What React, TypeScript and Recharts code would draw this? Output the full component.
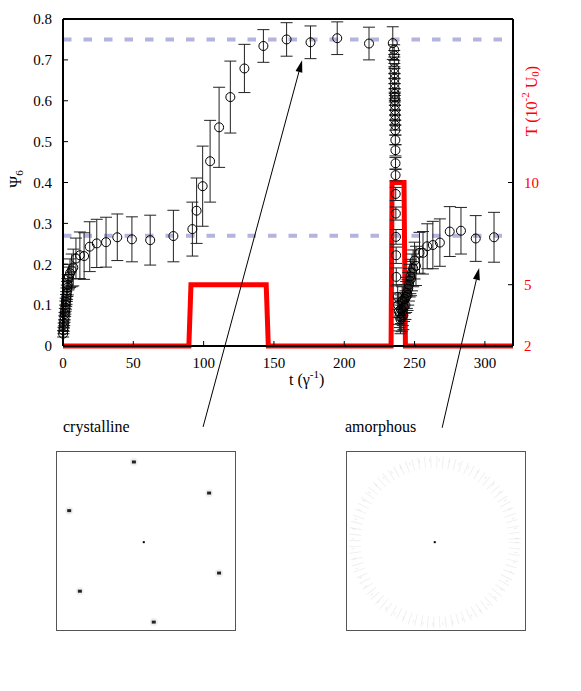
import React from 'react';
import {
  ComposedChart,
  ScatterChart,
  Scatter,
  Line,
  XAxis,
  YAxis,
  ErrorBar,
  ReferenceLine,
  ReferenceDot,
} from 'recharts';

const FONT = '"Liberation Serif", "DejaVu Serif", serif';

// Psi_6 order parameter vs time t (1/gamma)
const psiTimes = [
  0.1, 0.3, 0.5, 0.7, 0.9, 1.1, 1.3, 1.5, 1.7, 1.9, 2.1, 2.3, 2.5, 2.7, 2.9, 3.1, 3.4, 3.8, 4.2, 5.0,
  6.2, 7.3, 9.2, 12, 15, 19, 24, 30.6, 38.6, 49, 62, 78.5, 92, 95, 99.3, 104.6, 111, 119, 129, 142.5,
  159, 176, 195, 217.6, 234.5,
  235.5, 235.55, 235.6, 235.65, 235.7, 235.75, 235.8, 235.85, 235.9, 235.95, 236.0, 236.05, 236.1,
  236.15, 236.2, 236.25, 236.3, 236.35, 236.4, 236.45, 236.5, 236.6, 236.7, 236.8, 236.9, 237.0,
  238.0, 238.4, 238.8, 239.2, 239.6, 240.0, 240.4, 240.8, 241.2, 241.6, 242.0, 242.5, 243.0, 243.5,
  244.0, 244.5, 245.0, 245.5, 246.0, 246.5, 247.0, 247.5, 248.2, 249.0, 250.0, 251.0,
  253.5, 256, 259, 263, 268, 275, 283, 293.5, 306.5,
];
const psiValues = [
  0.030, 0.038, 0.046, 0.054, 0.062, 0.070, 0.078, 0.086, 0.094, 0.101, 0.108, 0.115, 0.122, 0.129,
  0.136, 0.143, 0.150, 0.165, 0.170, 0.178,
  0.185, 0.192, 0.214, 0.222, 0.220, 0.243, 0.251, 0.254, 0.266, 0.261, 0.259, 0.269, 0.286, 0.331,
  0.391, 0.452, 0.535, 0.609, 0.679, 0.734, 0.750, 0.743, 0.753, 0.740, 0.741,
  0.725, 0.711, 0.695, 0.679, 0.667, 0.654, 0.642, 0.630, 0.617, 0.609, 0.601, 0.589, 0.577, 0.565,
  0.553, 0.540, 0.528, 0.504, 0.479, 0.447, 0.418, 0.372, 0.324, 0.267, 0.222, 0.169,
  0.120, 0.100, 0.085, 0.072, 0.080, 0.065, 0.090, 0.070, 0.110, 0.085, 0.075, 0.095, 0.115, 0.100,
  0.120, 0.130, 0.125, 0.140, 0.150, 0.160, 0.170, 0.165, 0.180, 0.190, 0.209, 0.196,
  0.228, 0.228, 0.244, 0.247, 0.253, 0.280, 0.282, 0.263, 0.266,
];
const psiErrors = [
  0.008, 0.008, 0.010, 0.010, 0.012, 0.012, 0.014, 0.014, 0.016, 0.016, 0.018, 0.018, 0.020, 0.020,
  0.022, 0.022, 0.025, 0.028, 0.030, 0.035,
  0.040, 0.045, 0.050, 0.057, 0.057, 0.061, 0.059, 0.061, 0.057, 0.055, 0.061, 0.063, 0.066, 0.080,
  0.098, 0.100, 0.098, 0.088, 0.059, 0.040, 0.041, 0.040, 0.040, 0.040, 0.040,
  0.012, 0.012, 0.012, 0.012, 0.012, 0.012, 0.012, 0.012, 0.012, 0.012, 0.012, 0.012, 0.012, 0.012,
  0.012, 0.012, 0.012, 0.012, 0.014, 0.014, 0.014, 0.016, 0.016, 0.018, 0.020, 0.022,
  0.030, 0.030, 0.032, 0.035, 0.035, 0.035, 0.035, 0.035, 0.035, 0.035, 0.035, 0.035, 0.035, 0.035,
  0.038, 0.038, 0.038, 0.040, 0.040, 0.040, 0.042, 0.042, 0.045, 0.045, 0.045, 0.048,
  0.050, 0.052, 0.055, 0.058, 0.058, 0.061, 0.057, 0.056, 0.061,
];

// temperature protocol, T in 10^-2 U0
const tempTimes = [0, 89.5, 91, 144.5, 146, 233.3, 234, 242.5, 243.5, 320];
const tempValues = [2, 2, 5, 5, 2, 2, 10, 10, 2, 2];

const xTicks = [0, 50, 100, 150, 200, 250, 300];
const psiTicks = [0, 0.1, 0.2, 0.3, 0.4, 0.5, 0.6, 0.7, 0.8];
const tempTicks = [2, 5, 10];
const psiLevels = [0.75, 0.27];

// arrows from the inset labels to the curve (tail, head) in (t, psi)
const arrowCrystal = [{ x: 99.6, y: -0.198 }, { x: 170, y: 0.699 }];
const arrowAmorph = [{ x: 269.6, y: -0.2 }, { x: 295.9, y: 0.191 }];

// diffraction spots, normalised to the inset box (-1..1)
const crystalSpots = [
  { x: -0.136, y: 0.888 },
  { x: 0.709, y: 0.539 },
  { x: -0.863, y: 0.341 },
  { x: 0.821, y: -0.36 },
  { x: -0.743, y: -0.564 },
  { x: 0.087, y: -0.911 },
];
const crystalCenter = [{ x: -0.025, y: -0.013 }];
const amorphCenter = [{ x: -0.014, y: -0.013 }];

const psiData = psiTimes.map((t, i) => ({ t, psi: psiValues[i], err: psiErrors[i] }));
const tempData = tempTimes.map((t, i) => ({ t, T: tempValues[i] }));

const OpenCircle = (p: any) => (
  <circle cx={p.cx} cy={p.cy} r={4.5} fill="none" stroke="#000" strokeWidth={1} />
);

const ArrowShape = (p: any) => {
  const { x1, y1, x2, y2 } = p;
  const a = Math.atan2(y2 - y1, x2 - x1);
  const len = 12;
  const hw = 3.5;
  const bx = x2 - len * Math.cos(a);
  const by = y2 - len * Math.sin(a);
  const px = -Math.sin(a) * hw;
  const py = Math.cos(a) * hw;
  return (
    <g>
      <line x1={x1} y1={y1} x2={bx} y2={by} stroke="#000" strokeWidth={1} />
      <polygon points={`${x2},${y2} ${bx + px},${by + py} ${bx - px},${by - py}`} fill="#000" />
    </g>
  );
};

const PsiLabel = (props: any) => {
  const vb = props.viewBox || { x: 23, y: 19, width: 40, height: 327 };
  const cx = vb.x - 8;
  const cy = vb.y + 160;
  return (
    <text
      x={cx}
      y={cy}
      transform={`rotate(-90 ${cx} ${cy})`}
      textAnchor="middle"
      dominantBaseline="central"
      fontFamily={FONT}
      fontSize={16}
      fill="#000"
    >
      Ψ<tspan fontSize={11} dy={4}>6</tspan>
    </text>
  );
};

const TempLabel = (props: any) => {
  const vb = props.viewBox || { x: 513, y: 19, width: 40, height: 327 };
  const cx = vb.x + 18;
  const cy = vb.y + 82;
  return (
    <text
      x={cx}
      y={cy}
      transform={`rotate(-90 ${cx} ${cy})`}
      textAnchor="middle"
      dominantBaseline="central"
      fontFamily={FONT}
      fontSize={16}
      fill="#ff0000"
    >
      T (10<tspan fontSize={11} dy={-6}>-2</tspan>
      <tspan dy={6}> U</tspan>
      <tspan fontSize={11} dy={4}>0</tspan>
      <tspan dy={-4}>)</tspan>
    </text>
  );
};

const TimeLabel = (props: any) => {
  const vb = props.viewBox || { x: 63, y: 346, width: 450, height: 30 };
  const x = vb.x + vb.width / 2 + 1;
  const y = vb.y + 39;
  return (
    <text x={x} y={y} textAnchor="start" fontFamily={FONT} fontSize={16} fill="#000">
      t (γ<tspan fontSize={11} dy={-7}>-1</tspan>
      <tspan dy={7}>)</tspan>
    </text>
  );
};

const Spot = (p: any) => (
  <g>
    <circle cx={p.cx} cy={p.cy} r={4} fill="#e0e0e0" fillOpacity={0.5} />
    <rect x={p.cx - 2} y={p.cy - 1.5} width={4} height={3} fill="#222" />
  </g>
);

const CenterSpot = (p: any) => (
  <rect x={p.cx - 1} y={p.cy - 1} width={2} height={2} fill="#000" />
);

const tickStyle = { fill: '#000', fontSize: 15, fontFamily: FONT };
const axisLine = { stroke: '#000', strokeWidth: 2 };

const Inset = ({ left, children }: { left: number; children: React.ReactNode }) => (
  <div
    style={{
      position: 'absolute',
      left,
      top: 451,
      width: 180,
      height: 180,
      border: '1px solid #555',
      boxSizing: 'border-box',
      background: '#fff',
    }}
  >
    <ScatterChart width={178} height={178} margin={{ top: 0, right: 0, bottom: 0, left: 0 }}>
      <XAxis type="number" dataKey="x" domain={[-1, 1]} hide />
      <YAxis type="number" dataKey="y" domain={[-1, 1]} hide />
      {children}
    </ScatterChart>
  </div>
);

const labelStyle: React.CSSProperties = {
  position: 'absolute',
  top: 418,
  fontFamily: FONT,
  fontSize: 16,
  color: '#000',
};

export default function App() {
  return (
    <div style={{ position: 'absolute', left: 0, top: 0, width: 581, height: 691, background: '#fff' }}>
      <ComposedChart width={581} height={440} margin={{ top: 18, right: 28, bottom: 64, left: 23 }}>
        <XAxis
          dataKey="t"
          type="number"
          domain={[0, 320]}
          ticks={xTicks}
          height={30}
          tickSize={-5}
          tickMargin={16}
          axisLine={axisLine}
          tickLine={{ stroke: '#000' }}
          tick={tickStyle}
          label={{ content: TimeLabel }}
        />
        <XAxis
          xAxisId="top"
          orientation="top"
          type="number"
          domain={[0, 320]}
          ticks={xTicks}
          height={1}
          tickSize={-5}
          tick={false}
          axisLine={axisLine}
          tickLine={{ stroke: '#000' }}
        />
        <YAxis
          yAxisId="left"
          type="number"
          domain={[0, 0.8]}
          ticks={psiTicks}
          width={40}
          tickSize={-5}
          tickMargin={16}
          axisLine={axisLine}
          tickLine={{ stroke: '#000' }}
          tick={tickStyle}
          tickFormatter={(v: number) => String(v)}
          label={{ content: PsiLabel }}
        />
        <YAxis
          yAxisId="right"
          orientation="right"
          type="number"
          domain={[2, 18]}
          ticks={tempTicks}
          width={40}
          tickSize={-5}
          tickMargin={16}
          axisLine={axisLine}
          tickLine={{ stroke: '#000' }}
          tick={{ ...tickStyle, fill: '#ff0000' }}
          label={{ content: TempLabel }}
        />
        {psiLevels.map((v) => (
          <ReferenceLine
            key={v}
            yAxisId="left"
            y={v}
            stroke="#b4b4dc"
            strokeWidth={4}
            strokeDasharray="8.5 12"
          />
        ))}
        <Line
          yAxisId="right"
          data={tempData}
          dataKey="T"
          type="linear"
          stroke="#ff0000"
          strokeWidth={5}
          dot={false}
          isAnimationActive={false}
        />
        <Scatter
          yAxisId="left"
          data={psiData}
          dataKey="psi"
          shape={OpenCircle}
          isAnimationActive={false}
        >
          <ErrorBar dataKey="err" direction="y" width={6} stroke="#222" strokeWidth={1} isAnimationActive={false} />
        </Scatter>
        <ReferenceLine yAxisId="left" segment={arrowCrystal} ifOverflow="visible" shape={ArrowShape} />
        <ReferenceLine yAxisId="left" segment={arrowAmorph} ifOverflow="visible" shape={ArrowShape} />
      </ComposedChart>

      <div style={{ ...labelStyle, left: 63 }}>crystalline</div>
      <div style={{ ...labelStyle, left: 345 }}>amorphous</div>

      <Inset left={56}>
        <Scatter data={crystalSpots} shape={Spot} isAnimationActive={false} />
        <Scatter data={crystalCenter} shape={CenterSpot} isAnimationActive={false} />
      </Inset>
      <Inset left={346}>
        <ReferenceDot
          x={amorphCenter[0].x}
          y={amorphCenter[0].y}
          r={80}
          fill="none"
          stroke="#f0f0f0"
          strokeWidth={12}
          strokeDasharray="1 5"
          ifOverflow="visible"
        />
        <ReferenceDot
          x={amorphCenter[0].x}
          y={amorphCenter[0].y}
          r={82}
          fill="none"
          stroke="#dcdcdc"
          strokeWidth={3}
          strokeDasharray="1 9"
          strokeOpacity={0.5}
          ifOverflow="visible"
        />
        <Scatter data={amorphCenter} shape={CenterSpot} isAnimationActive={false} />
      </Inset>
    </div>
  );
}
